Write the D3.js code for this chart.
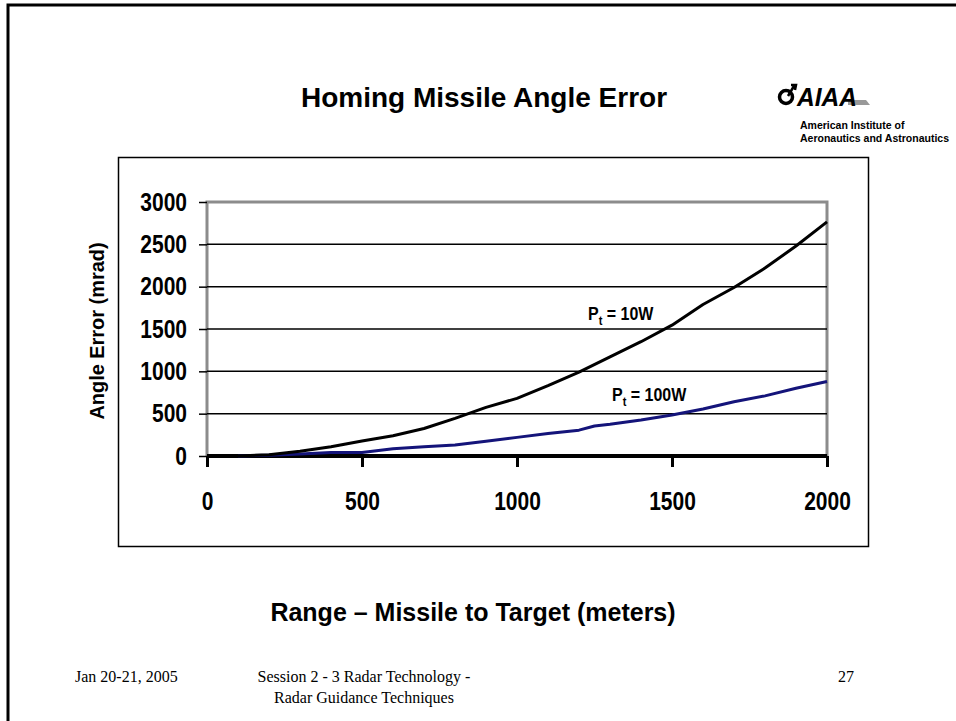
<!DOCTYPE html>
<html>
<head>
<meta charset="utf-8">
<script src="https://cdn.jsdelivr.net/npm/d3@7"></script>
<style>
  body { margin: 0; background: #fff; }
  svg text { font-family: "Liberation Sans", Arial, sans-serif; }
</style>
</head>
<body>
<script>
'use strict';

// range values (meters) and angle error (mrad)
const range10W = [100, 200, 300, 400, 500, 600, 700, 800, 900, 1000, 1100, 1200, 1300, 1400, 1500, 1600, 1700, 1800, 1900, 2000];
const error10W = [0, 15, 55, 110, 178, 240, 325, 445, 575, 680, 830, 990, 1170, 1350, 1545, 1790, 1990, 2220, 2480, 2765];
const range100W = [100, 200, 300, 400, 500, 600, 700, 800, 900, 1000, 1100, 1200, 1250, 1300, 1400, 1500, 1600, 1700, 1800, 1900, 2000];
const error100W = [0, 10, 25, 40, 40, 85, 110, 130, 175, 220, 265, 305, 355, 375, 425, 485, 555, 640, 710, 800, 880];
const xTicks = [0, 500, 1000, 1500, 2000];
const yTicks = [0, 500, 1000, 1500, 2000, 2500, 3000];

const svg = d3.select('body').append('svg')
  .attr('width', 956)
  .attr('height', 721);

// slide frame
svg.append('path')
  .attr('d', 'M8,721 L8,5 L956,5')
  .attr('fill', 'none')
  .attr('stroke', '#000')
  .attr('stroke-width', 3);

// slide title
svg.append('text')
  .attr('x', 484).attr('y', 107)
  .attr('text-anchor', 'middle')
  .style('font-size', '28px')
  .style('font-weight', 'bold')
  .text('Homing Missile Angle Error');

// AIAA logo (approximation)
const logo = svg.append('g').attr('transform', 'translate(776, 84)');
logo.append('circle').attr('cx', 10).attr('cy', 13).attr('r', 6.5)
  .attr('fill', 'none').attr('stroke', '#000').attr('stroke-width', 3.5);
logo.append('path').attr('d', 'M12,12 L18,2 M15,1 L20,1 L19,6')
  .attr('fill', 'none').attr('stroke', '#000').attr('stroke-width', 2.5);
logo.append('path').attr('d', 'M72,16 L90,16 L94,21 L72,21 Z').attr('fill', '#999');
logo.append('text').attr('x', 21).attr('y', 22)
  .style('font-size', '26px').style('font-weight', 'bold').style('font-style', 'italic')
  .attr('textLength', 60).attr('lengthAdjust', 'spacingAndGlyphs')
  .text('AIAA');
logo.append('text').attr('x', 24).attr('y', 45)
  .style('font-size', '10.5px').style('font-weight', 'bold')
  .text('American Institute of');
logo.append('text').attr('x', 24).attr('y', 58)
  .style('font-size', '10.5px').style('font-weight', 'bold')
  .text('Aeronautics and Astronautics');

// chart frame
svg.append('rect')
  .attr('x', 118.5).attr('y', 157.5)
  .attr('width', 750).attr('height', 389)
  .attr('fill', '#fff')
  .attr('stroke', '#000')
  .attr('stroke-width', 1.5);

const plotLeft = 207, plotRight = 827, plotTop = 202, plotBottom = 456;

const x = d3.scaleLinear().domain([0, 2000]).range([plotLeft, plotRight]);
const y = d3.scaleLinear().domain([0, 3000]).range([plotBottom, plotTop]);

// plot area border (gray)
svg.append('path')
  .attr('d', `M${plotLeft},${plotBottom} L${plotLeft},${plotTop} L${plotRight},${plotTop} L${plotRight},${plotBottom}`)
  .attr('fill', 'none')
  .attr('stroke', '#8c8c8c')
  .attr('stroke-width', 3);

// horizontal gridlines
svg.append('g')
  .selectAll('line')
  .data(yTicks.filter(d => d > 0 && d < 3000))
  .enter().append('line')
  .attr('x1', plotLeft).attr('x2', plotRight)
  .attr('y1', d => y(d)).attr('y2', d => y(d))
  .attr('stroke', '#000')
  .attr('stroke-width', 1.5);

// y axis
const yAxis = svg.append('g')
  .attr('transform', `translate(${plotLeft},0)`)
  .call(d3.axisLeft(y).tickValues(yTicks).tickSize(8).tickPadding(12).tickFormat(d3.format('d')));
yAxis.select('.domain').remove();
yAxis.selectAll('.tick line').attr('stroke', '#000').attr('stroke-width', 1.5);
yAxis.selectAll('.tick text')
  .attr('dy', null)
  .attr('y', 0)
  .attr('transform', 'translate(0,8) scale(1,1.2)')
  .style('font-size', '21px')
  .style('font-weight', 'bold')
  .style('font-family', '"Liberation Sans", Arial, sans-serif')
  .attr('fill', '#000');

// x axis
const xAxis = svg.append('g')
  .attr('transform', `translate(0,${plotBottom})`)
  .call(d3.axisBottom(x).tickValues(xTicks).tickSize(11).tickPadding(0).tickFormat(d3.format('d')));
xAxis.select('.domain')
  .attr('d', `M${plotLeft},0 H${plotRight}`)
  .attr('stroke', '#000')
  .attr('stroke-width', 4);
xAxis.selectAll('.tick line').attr('stroke', '#000').attr('stroke-width', 3);
xAxis.selectAll('.tick text')
  .attr('dy', null)
  .attr('y', 0)
  .attr('transform', 'translate(0,54) scale(1,1.2)')
  .style('font-size', '21px')
  .style('font-weight', 'bold')
  .style('font-family', '"Liberation Sans", Arial, sans-serif')
  .attr('fill', '#000');

// series lines
const line = d3.line()
  .x(d => x(d[0]))
  .y(d => y(d[1]));

svg.append('path')
  .datum(d3.zip(range100W, error100W))
  .attr('d', line)
  .attr('fill', 'none')
  .attr('stroke', '#14147a')
  .attr('stroke-width', 3)
  .attr('stroke-linejoin', 'round');

svg.append('path')
  .datum(d3.zip(range10W, error10W))
  .attr('d', line)
  .attr('fill', 'none')
  .attr('stroke', '#000')
  .attr('stroke-width', 3)
  .attr('stroke-linejoin', 'round');

// series labels
function seriesLabel(px, py, sub, rest) {
  const t = svg.append('text')
    .attr('transform', `translate(${px},${py}) scale(1,1.15)`)
    .style('font-size', '16px')
    .style('font-weight', 'bold');
  t.append('tspan').text('P');
  t.append('tspan').attr('dy', 4).style('font-size', '11px').text(sub);
  t.append('tspan').attr('dy', -4).text(rest);
}
seriesLabel(588, 320, 't', ' = 10W');
seriesLabel(612, 401, 't', ' = 100W');

// axis titles
svg.append('text')
  .attr('transform', 'translate(104,331) rotate(-90) scale(1.05,1.08)')
  .attr('text-anchor', 'middle')
  .style('font-size', '19px')
  .style('font-weight', 'bold')
  .text('Angle Error (mrad)');

svg.append('text')
  .attr('x', 473).attr('y', 621)
  .attr('text-anchor', 'middle')
  .style('font-size', '25px')
  .style('font-weight', 'bold')
  .text('Range \u2013 Missile to Target (meters)');

// footer
const footer = svg.append('g')
  .style('font-size', '16px');
footer.append('text').attr('x', 75).attr('y', 682)
  .style('font-family', '"Liberation Serif", serif').text('Jan 20-21, 2005');
footer.append('text').attr('x', 364).attr('y', 682).attr('text-anchor', 'middle')
  .style('font-family', '"Liberation Serif", serif').text('Session 2 - 3  Radar Technology -');
footer.append('text').attr('x', 364).attr('y', 703).attr('text-anchor', 'middle')
  .style('font-family', '"Liberation Serif", serif').text('Radar Guidance Techniques');
footer.append('text').attr('x', 838).attr('y', 682)
  .style('font-family', '"Liberation Serif", serif').text('27');
</script>
</body>
</html>
